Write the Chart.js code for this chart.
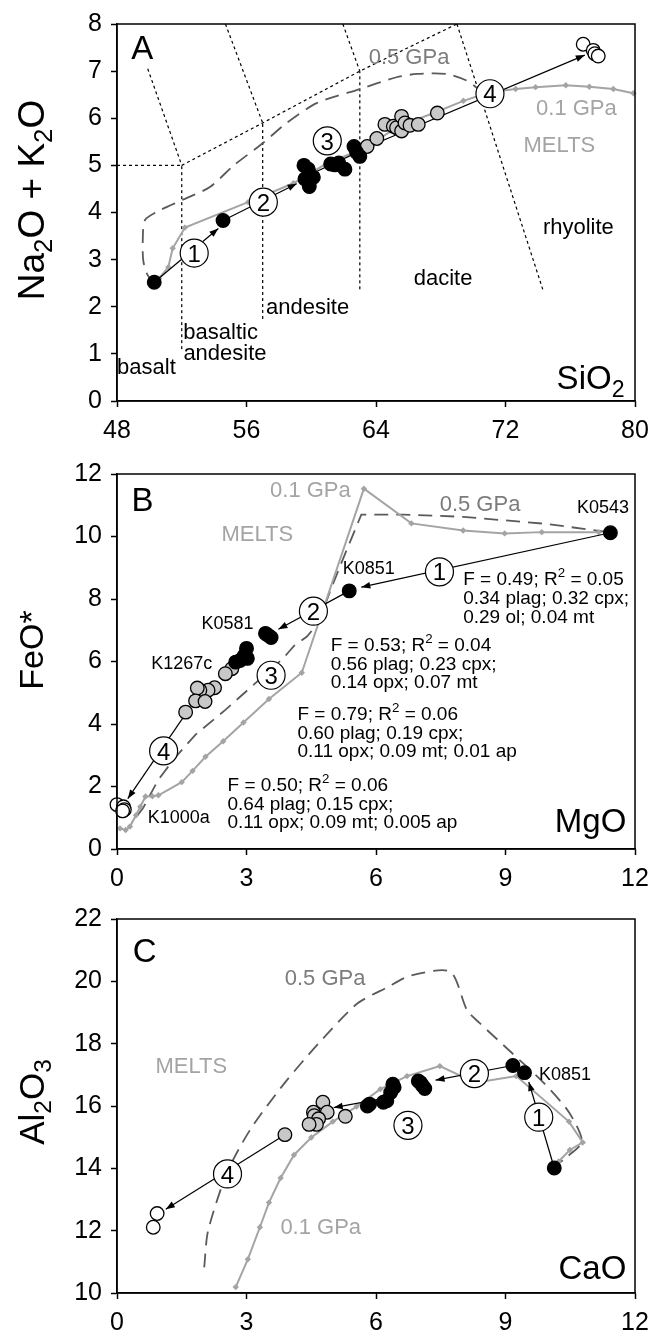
<!DOCTYPE html>
<html>
<head>
<meta charset="utf-8">
<script src="https://cdn.jsdelivr.net/npm/chart.js@4.4.1/dist/chart.umd.min.js"></script>
<style>
  body { margin: 0; background: #fff; }
  canvas { position: absolute; left: 0; }
</style>
</head>
<body>
<canvas id="chartA" width="661" height="450" style="top:0"></canvas>
<canvas id="chartB" width="661" height="445" style="top:450px"></canvas>
<canvas id="chartC" width="661" height="442" style="top:895px"></canvas>
<script>
const FONT = "'Liberation Sans', Arial, sans-serif";
const LIGHT = '#a4a4a4';
const DARK = '#5a5a5a';
const GREYTEXT = '#7c7c7c';

// ---------- A: total alkali vs silica ----------
const siO2Black = [50.3, 54.55, 59.55, 59.82, 59.61, 60.13, 59.88, 61.2, 61.46, 61.7, 62.08, 62.64, 62.8, 63.0];
const alkBlack = [2.52, 3.83, 5.0, 4.92, 4.71, 4.75, 4.55, 5.03, 5.01, 5.05, 4.92, 5.4, 5.28, 5.19];
const siO2Grey = [63.45, 64.05, 64.55, 65.07, 65.27, 65.58, 65.58, 65.79, 66.1, 66.61, 67.79];
const alkGrey = [5.4, 5.57, 5.87, 5.83, 5.8, 6.04, 5.73, 5.9, 5.85, 5.87, 6.11];
const siO2White = [76.8, 77.42, 77.52, 77.73];
const alkWhite = [7.57, 7.44, 7.37, 7.32];

const siO2Melts01 = [50.6, 51.17, 51.44, 52.2, 56.1, 58.9, 61.0, 63.2, 65.5, 67.5, 69.4, 71.0, 72.63, 73.86, 75.73, 77.18, 78.66, 79.9];
const alkMelts01 = [2.6, 2.84, 3.24, 3.68, 4.22, 4.62, 5.05, 5.35, 5.85, 6.1, 6.37, 6.55, 6.62, 6.66, 6.7, 6.67, 6.62, 6.53];
const siO2Melts05 = [50.45, 49.93, 49.63, 49.59, 49.73, 50.66, 52.0, 53.74, 55.18, 57.04, 58.48, 60.33, 63.0, 65.27, 66.51, 68.36, 69.6, 70.32, 70.63];
const alkMelts05 = [2.53, 2.65, 2.96, 3.38, 3.84, 4.05, 4.26, 4.54, 4.99, 5.48, 5.9, 6.32, 6.62, 6.87, 6.94, 6.94, 6.8, 6.62, 6.5];

// TAS field boundaries [x, y] per segment
const tasFieldLines = [
  [[48, 5], [52, 5]],
  [[52, 1.1], [52, 5]],
  [[57, 1.74], [57, 5.9]],
  [[63, 2.37], [63, 7]],
  [[52, 5], [57, 5.9], [63, 7], [69, 8]],
  [[49.9, 7.05], [52, 5]],
  [[54.7, 8], [57, 5.9]],
  [[61.95, 8], [63, 7]],
  [[69, 8], [74.3, 2.37]]
];

// fractionation steps [x0, y0, x1, y1]
const stepsA = [[50.3, 2.52, 54.26, 3.66], [54.55, 3.83, 59.1, 4.61], [59.9, 4.8, 63.3, 5.35], [63.4, 5.38, 76.9, 7.34]];
const stepSiO2 = [52.77, 57.04, 60.99, 71.04];
const stepAlk = [3.14, 4.22, 5.52, 6.52];

// ---------- B: FeO* vs MgO ----------
const mgoBlack = [11.43, 5.38, 3.44, 3.57, 3.5, 3.0, 2.95, 2.85, 2.75, 3.02];
const feoBlack = [10.12, 8.26, 6.9, 6.77, 6.84, 6.42, 6.19, 6.03, 5.98, 6.1];
const mgoGrey = [2.66, 2.51, 2.26, 2.11, 1.92, 1.86, 1.82, 2.04, 1.59];
const feoGrey = [5.77, 5.61, 5.16, 5.08, 5.08, 5.15, 4.74, 4.72, 4.38];
const mgoWhite = [0.0, 0.15, 0.17, 0.13];
const feoWhite = [1.42, 1.35, 1.26, 1.22];

const mgoMelts01 = [11.16, 9.84, 8.98, 8.02, 6.82, 5.72, 4.28, 3.52, 2.93, 2.46, 2.05, 1.75, 1.5, 0.96, 0.82, 0.66, 0.54, 0.44, 0.3, 0.2, 0.07];
const feoMelts01 = [10.14, 10.14, 10.1, 10.19, 10.42, 11.53, 5.64, 4.8, 4.05, 3.45, 2.95, 2.5, 2.14, 1.72, 1.69, 1.68, 1.35, 1.08, 0.72, 0.61, 0.66];
const mgoMelts05 = [11.36, 9.98, 8.02, 6.64, 5.66, 5.3, 4.95, 4.67, 4.4, 4.1, 3.85, 3.2, 2.51, 1.82, 1.33, 0.95, 0.6, 0.35];
const feoMelts05 = [10.14, 10.4, 10.63, 10.7, 10.7, 9.5, 8.3, 7.24, 6.8, 6.5, 6.1, 5.3, 4.45, 3.66, 2.9, 2.2, 1.3, 0.85];

const stepsB = [[11.43, 10.12, 5.66, 8.38], [5.38, 8.26, 3.74, 7.03], [1.7, 4.55, 0.25, 1.61]];
const stepMgO = [7.47, 4.55, 3.57, 1.08];
const stepFeO = [8.87, 7.61, 5.56, 3.14];

// ---------- C: Al2O3 vs CaO ----------
const caoBlack = [10.13, 9.17, 9.44, 7.03, 7.13, 6.98, 7.08, 6.39, 6.42, 6.34, 6.25, 6.17, 5.85, 5.8];
const alBlack = [14.01, 17.3, 17.07, 16.75, 16.56, 16.8, 16.65, 16.7, 16.6, 16.43, 16.17, 16.12, 16.06, 16.0];
const caoGrey = [5.29, 4.77, 4.87, 4.55, 4.57, 4.67, 4.62, 4.45, 3.89];
const alGrey = [15.67, 16.12, 15.8, 15.8, 15.69, 15.59, 15.41, 15.41, 15.08];
const caoWhite = [0.93, 0.84];
const alWhite = [12.55, 12.11];

const caoMelts01 = [2.75, 3.03, 3.31, 3.52, 3.79, 4.1, 4.5, 5.0, 5.55, 6.1, 6.72, 7.48, 8.3, 9.25, 10.47, 10.79, 10.49, 10.23];
const alMelts01 = [10.19, 11.08, 12.11, 12.9, 13.69, 14.43, 14.99, 15.5, 15.98, 16.54, 16.96, 17.28, 16.75, 16.96, 15.5, 14.83, 14.59, 14.22];
const caoMelts05 = [2.02, 2.11, 2.56, 3.1, 3.89, 4.67, 5.56, 6.25, 6.79, 7.72, 8.11, 8.41, 9.15, 9.88, 10.47, 10.77, 10.38, 10.18];
const alMelts05 = [10.82, 12.0, 13.9, 15.27, 16.75, 18.01, 19.28, 19.8, 20.18, 20.31, 19.07, 18.65, 17.7, 16.75, 15.8, 14.85, 14.32, 14.11];

const stepsC = [[10.13, 14.01, 9.54, 16.77], [9.17, 17.3, 7.38, 16.83], [6.4, 16.3, 5.02, 15.95], [3.89, 15.08, 1.13, 12.69]];
const stepCaO = [9.77, 8.28, 6.74, 2.56];
const stepAl = [15.64, 17.04, 15.38, 13.82];

// ---------- helpers ----------
function pts(xs, ys) { return xs.map((x, i) => ({ x: x, y: ys[i] })); }

const tasLine = seg => ({ data: seg.map(p => ({ x: p[0], y: p[1] })), showLine: true, borderColor: '#000', borderWidth: 1.2, borderDash: [3, 3], pointRadius: 0, order: 6 });
const meltsLine = (xs, ys) => ({ data: pts(xs, ys), showLine: true, borderColor: LIGHT, borderWidth: 2, pointStyle: 'rectRot', pointRadius: 3.2, pointBackgroundColor: LIGHT, pointBorderWidth: 0, order: 4 });
const dashLine = (xs, ys) => ({ data: pts(xs, ys), showLine: true, borderColor: DARK, borderWidth: 1.8, borderDash: [14, 8], pointRadius: 0, tension: 0.25, order: 5 });
const arrowLine = a => ({ data: [{ x: a[0], y: a[1] }, { x: a[2], y: a[3] }], showLine: true, borderColor: '#000', borderWidth: 1.2, pointRadius: 0, order: 3, arrow: true });
const samples = (xs, ys, fill) => ({ data: pts(xs, ys), pointRadius: 6.8, pointBackgroundColor: fill, pointBorderColor: '#000', pointBorderWidth: 1.3, order: 2 });
const stepCircles = (xs, ys) => ({ data: pts(xs, ys), pointRadius: 14, pointBackgroundColor: '#fff', pointBorderColor: '#000', pointBorderWidth: 1.2, order: 1, numbers: true });

// split "SiO_2" / "R^2" into plain, sub and sup runs
function richParts(str) {
  const parts = [];
  for (let i = 0; i < str.length; i++) {
    const c = str[i];
    if ((c === '_' || c === '^') && i + 1 < str.length) {
      parts.push({ t: str[i + 1], m: c === '_' ? 'sub' : 'sup' });
      i++;
    } else if (parts.length && !parts[parts.length - 1].m) {
      parts[parts.length - 1].t += c;
    } else {
      parts.push({ t: c, m: null });
    }
  }
  return parts;
}

function drawRich(ctx, str, x, y, size, align, color) {
  const parts = richParts(str);
  let w = 0;
  parts.forEach(p => {
    ctx.font = (p.m ? size * 0.7 : size) + 'px ' + FONT;
    p.w = ctx.measureText(p.t).width;
    w += p.w;
  });
  let cx = align === 'left' ? x : align === 'right' ? x - w : x - w / 2;
  const base = y + size * 0.36;
  ctx.fillStyle = color;
  ctx.textAlign = 'left';
  ctx.textBaseline = 'alphabetic';
  parts.forEach(p => {
    ctx.font = (p.m ? size * 0.7 : size) + 'px ' + FONT;
    const dy = p.m === 'sub' ? size * 0.22 : p.m === 'sup' ? -size * 0.42 : 0;
    ctx.fillText(p.t, cx, base + dy);
    cx += p.w;
  });
}

function drawHead(ctx, from, to) {
  const a = Math.atan2(to.y - from.y, to.x - from.x);
  const len = 9, half = 3.3;
  ctx.save();
  ctx.fillStyle = '#000';
  ctx.beginPath();
  ctx.moveTo(to.x, to.y);
  ctx.lineTo(to.x - len * Math.cos(a) + half * Math.sin(a), to.y - len * Math.sin(a) - half * Math.cos(a));
  ctx.lineTo(to.x - len * Math.cos(a) - half * Math.sin(a), to.y - len * Math.sin(a) + half * Math.cos(a));
  ctx.closePath();
  ctx.fill();
  ctx.restore();
}

function decor(cfg) {
  return {
    id: 'decor',
    afterDatasetDraw(chart, args) {
      const ds = chart.data.datasets[args.index];
      const el = args.meta.data;
      const ctx = chart.ctx;
      if (ds.arrow) drawHead(ctx, el[0], el[el.length - 1]);
      if (ds.numbers) {
        el.forEach((p, i) => drawRich(ctx, String(i + 1), p.x, p.y, 24, 'center', '#000'));
      }
    },
    afterDraw(chart) {
      const ctx = chart.ctx;
      const a = chart.chartArea;
      const xs = chart.scales.x, ys = chart.scales.y;
      ctx.save();
      ctx.strokeStyle = '#000';
      ctx.lineWidth = 1.5;
      ctx.strokeRect(a.left, a.top, a.right - a.left, a.bottom - a.top);
      cfg.labels.forEach(l => {
        drawRich(ctx, l[0], xs.getPixelForValue(l[1]), ys.getPixelForValue(l[2]), l[3], l[5] || 'center', l[4] || '#000');
      });
      ctx.translate(31, cfg.titleY);
      ctx.rotate(-Math.PI / 2);
      drawRich(ctx, cfg.title, 0, 0, cfg.titleSize || 36, 'center', '#000');
      ctx.restore();
    }
  };
}

function axis(min, max, step, fit) {
  return {
    type: 'linear', min: min, max: max,
    ticks: { stepSize: step, autoSkip: false, maxRotation: 0, padding: 9, color: '#000', font: { family: FONT, size: 25 } },
    grid: { drawOnChartArea: false, drawTicks: true, tickLength: 6, tickColor: '#000', tickWidth: 1.5 },
    border: { color: '#000', width: 1.5 },
    afterFit: fit
  };
}

function makePanel(id, cfg) {
  return new Chart(document.getElementById(id), {
    type: 'scatter',
    data: { datasets: cfg.datasets.map(d => Object.assign({ clip: false }, d)) },
    options: {
      responsive: false, animation: false, devicePixelRatio: 1, events: [],
      layout: { padding: { top: cfg.padTop, right: 26, left: 0, bottom: 0 } },
      plugins: { legend: { display: false }, tooltip: { enabled: false } },
      scales: {
        x: axis(cfg.x[0], cfg.x[1], cfg.x[2], s => { s.height = cfg.xHeight; }),
        y: axis(cfg.y[0], cfg.y[1], cfg.y[2], s => { s.width = 117; })
      }
    },
    plugins: [decor(cfg)]
  });
}

// ---------- panels ----------
makePanel('chartA', {
  padTop: 20, xHeight: 49, x: [48, 80, 8], y: [0, 8, 1],
  title: 'Na_2O + K_2O', titleY: 200, titleSize: 37,
  datasets: [].concat(
    tasFieldLines.map(tasLine),
    [dashLine(siO2Melts05, alkMelts05), meltsLine(siO2Melts01, alkMelts01)],
    stepsA.map(arrowLine),
    [samples(siO2Black, alkBlack, '#000'), samples(siO2Grey, alkGrey, '#c8c8c8'), samples(siO2White, alkWhite, '#fff'),
     stepCircles(stepSiO2, stepAlk)]
  ),
  labels: [
    ['A', 49.56, 7.52, 33],
    ['0.5 GPa', 66.04, 7.32, 22, GREYTEXT],
    ['0.1 GPa', 76.38, 6.23, 22, LIGHT],
    ['MELTS', 75.33, 5.46, 22, LIGHT],
    ['rhyolite', 76.5, 3.72, 22],
    ['dacite', 68.14, 2.62, 22],
    ['andesite', 59.77, 2.02, 22],
    ['basaltic', 54.4, 1.49, 22],
    ['andesite', 54.67, 1.04, 22],
    ['basalt', 49.82, 0.74, 22],
    ['SiO_2', 79.35, 0.5, 33, '#000', 'right']
  ]
});

makePanel('chartB', {
  padTop: 19, xHeight: 46, x: [0, 12, 3], y: [0, 12, 2],
  title: 'FeO*', titleY: 200, titleSize: 34,
  datasets: [].concat(
    [dashLine(mgoMelts05, feoMelts05), meltsLine(mgoMelts01, feoMelts01)].map(d => Object.assign(d, { tension: 0 })),
    stepsB.map(arrowLine),
    [samples(mgoBlack, feoBlack, '#000'), samples(mgoGrey, feoGrey, '#c8c8c8'), samples(mgoWhite, feoWhite, '#fff'),
     stepCircles(stepMgO, stepFeO)]
  ),
  labels: [
    ['B', 0.59, 11.19, 33],
    ['0.1 GPa', 4.48, 11.53, 22, LIGHT],
    ['0.5 GPa', 8.41, 11.08, 22, GREYTEXT],
    ['MELTS', 3.25, 10.1, 22, LIGHT],
    ['K0543', 11.26, 10.95, 18],
    ['K0851', 5.83, 9.01, 18],
    ['K0581', 2.56, 7.24, 18],
    ['K1267c', 1.5, 5.98, 18],
    ['K1000a', 1.43, 1.05, 18],
    ['F = 0.49; R^2 = 0.05', 8.02, 8.66, 19, '#000', 'left'],
    ['0.34 plag; 0.32 cpx;', 8.02, 8.05, 19, '#000', 'left'],
    ['0.29 ol; 0.04 mt', 8.02, 7.45, 19, '#000', 'left'],
    ['F = 0.53; R^2 = 0.04', 4.95, 6.56, 19, '#000', 'left'],
    ['0.56 plag; 0.23 cpx;', 4.95, 5.96, 19, '#000', 'left'],
    ['0.14 opx; 0.07 mt', 4.95, 5.37, 19, '#000', 'left'],
    ['F = 0.79; R^2 = 0.06', 4.18, 4.35, 19, '#000', 'left'],
    ['0.60 plag; 0.19 cpx;', 4.18, 3.75, 19, '#000', 'left'],
    ['0.11 opx; 0.09 mt; 0.01 ap', 4.18, 3.16, 19, '#000', 'left'],
    ['F = 0.50; R^2 = 0.06', 2.56, 2.08, 19, '#000', 'left'],
    ['0.64 plag; 0.15 cpx;', 2.56, 1.47, 19, '#000', 'left'],
    ['0.11 opx; 0.09 mt; 0.005 ap', 2.56, 0.89, 19, '#000', 'left'],
    ['MgO', 11.8, 0.93, 33, '#000', 'right']
  ]
});

makePanel('chartC', {
  padTop: 19, xHeight: 44, x: [0, 12, 3], y: [10, 22, 2],
  title: 'Al_2O_3', titleY: 207, titleSize: 35,
  datasets: [].concat(
    [dashLine(caoMelts05, alMelts05), meltsLine(caoMelts01, alMelts01)],
    stepsC.map(arrowLine),
    [samples(caoBlack, alBlack, '#000'), samples(caoGrey, alGrey, '#c8c8c8'), samples(caoWhite, alWhite, '#fff'),
     stepCircles(stepCaO, stepAl)]
  ),
  labels: [
    ['C', 0.64, 21.0, 33],
    ['0.5 GPa', 4.82, 20.14, 22, GREYTEXT],
    ['MELTS', 1.72, 17.3, 22, LIGHT],
    ['K0851', 10.38, 17.04, 18],
    ['0.1 GPa', 4.72, 12.16, 22, LIGHT],
    ['CaO', 11.8, 10.84, 33, '#000', 'right']
  ]
});
</script>
</body>
</html>
